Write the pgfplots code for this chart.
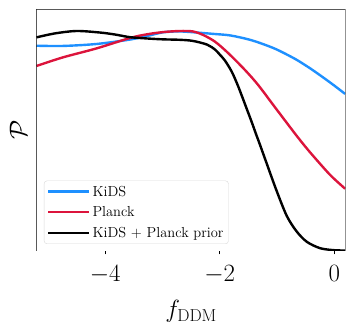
\documentclass[border=0pt]{standalone}
\usepackage{pgfplots}
\pgfplotsset{compat=1.18}
\definecolor{kblue}{RGB}{30,144,255}
\definecolor{pred}{RGB}{220,20,60}
\begin{document}
\begin{tikzpicture}
\begin{axis}[
  scale only axis, width=309.2pt, height=242pt,
  xmin=-5.2, xmax=0.2, ymin=0, ymax=1.1,
  xtick={-4,-2,0}, ytick=\empty,
  tick align=outside, xtick pos=bottom, major tick length=3.5pt,
  tick style={black, line width=0.8pt},
  axis line style={draw=none},
  xticklabel style={font=\fontsize{23}{27}\selectfont, yshift=-7pt},
  xlabel={$f_{\rm DDM}$},
  xlabel style={font=\fontsize{26}{30}\selectfont, at={(axis description cs:0.5,-0.19)}, anchor=north},
  ylabel={$\mathcal{P}$},
  ylabel style={font=\fontsize{26}{30}\selectfont, at={(axis description cs:-0.02,0.5)}, anchor=south},
  legend cell align=left,
  legend style={at={(0.024,0.029)}, anchor=south west,
    font=\fontsize{14.5}{17}\selectfont, draw=black!15, rounded corners=3pt,
    row sep=5pt, inner sep=3pt},
  legend image code/.code={\draw[#1, line width=2.4pt] (0pt,0pt) -- (34pt,0pt); \path (0pt,0pt) -- (41pt,0pt);},
  every axis plot/.append style={line width=2.4pt},
]
\addplot[kblue, smooth] coordinates {
(-5.20,0.933) (-4.74,0.932) (-4.15,0.941) (-3.57,0.961) (-3.27,0.977)
(-2.99,0.994) (-2.70,0.998) (-2.40,0.993) (-2.12,0.987) (-1.82,0.980)
(-1.50,0.962) (-1.27,0.943) (-1.04,0.920) (-0.85,0.896) (-0.65,0.868)
(-0.42,0.830) (-0.20,0.790) (0.00,0.752) (0.19,0.714)};
\addlegendentry{KiDS}
\addplot[pred, smooth] coordinates {
(-5.20,0.841) (-4.74,0.880) (-4.15,0.921) (-3.57,0.968) (-3.27,0.985)
(-2.99,0.995) (-2.70,1.0) (-2.47,0.998) (-2.29,0.982) (-2.08,0.951)
(-1.85,0.899) (-1.56,0.823) (-1.33,0.755) (-1.04,0.655) (-0.74,0.552)
(-0.60,0.505) (-0.45,0.457) (-0.25,0.397) (-0.05,0.340) (0.19,0.283)};
\addlegendentry{Planck}
\addplot[black, smooth] coordinates {
(-5.20,0.971) (-4.88,0.989) (-4.50,1.0) (-4.09,0.993) (-3.83,0.984)
(-3.57,0.972) (-3.27,0.966) (-2.99,0.962) (-2.70,0.960) (-2.47,0.955)
(-2.22,0.938) (-2.08,0.915) (-2.00,0.893) (-1.91,0.866) (-1.79,0.815)
(-1.68,0.750) (-1.56,0.668) (-1.44,0.585) (-1.36,0.527) (-1.30,0.485)
(-1.18,0.398) (-1.01,0.276) (-0.83,0.160) (-0.66,0.090) (-0.48,0.042)
(-0.25,0.013) (-0.02,0.004) (0.19,0.002)};
\addlegendentry{KiDS + Planck prior}
\draw[black!65, line width=0.8pt] (rel axis cs:0,1) -- (rel axis cs:1,1) -- (rel axis cs:1,0);
\draw[black, line width=0.8pt] (rel axis cs:0,1) -- (rel axis cs:0,0) -- (rel axis cs:1,0);
\end{axis}
\pgfresetboundingbox
\path (current axis.south west) ++(-36.5pt,-77pt) coordinate (bbA);
\path (current axis.north east) ++(9.3pt,9pt) coordinate (bbB);
\useasboundingbox (bbA) rectangle (bbB);
\end{tikzpicture}
\end{document}
